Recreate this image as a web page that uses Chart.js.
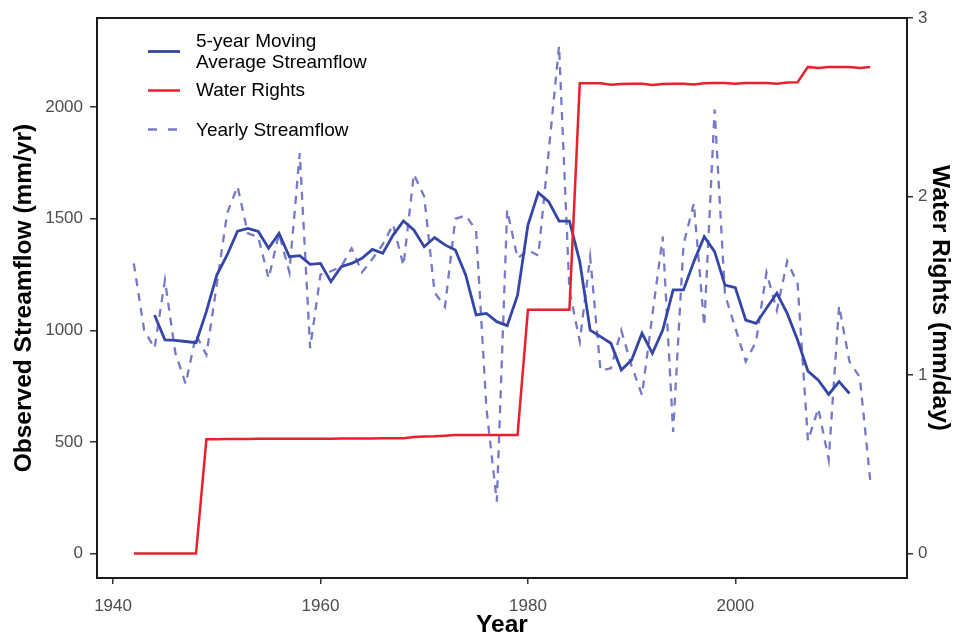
<!DOCTYPE html>
<html><head><meta charset="utf-8">
<script src="https://cdn.jsdelivr.net/npm/chart.js@4.4.0/dist/chart.umd.min.js"></script>
<style>html,body{margin:0;padding:0;background:#fff;}#wrap{width:960px;height:637px;}</style>
</head><body><div id="wrap"><canvas id="c" width="960" height="637"></canvas></div>
<script>
// ---- data ----
const years = [1942,1943,1944,1945,1946,1947,1948,1949,1950,1951,1952,1953,1954,1955,1956,1957,1958,1959,1960,1961,1962,1963,1964,1965,1966,1967,1968,1969,1970,1971,1972,1973,1974,1975,1976,1977,1978,1979,1980,1981,1982,1983,1984,1985,1986,1987,1988,1989,1990,1991,1992,1993,1994,1995,1996,1997,1998,1999,2000,2001,2002,2003,2004,2005,2006,2007,2008,2009,2010,2011,2012,2013];
const yearlyStreamflow = [1300,1000,920,1225,900,760,980,890,1205,1525,1645,1435,1418,1233,1435,1260,1795,920,1250,1265,1285,1368,1260,1320,1385,1475,1290,1700,1600,1170,1105,1500,1515,1450,650,232,1540,1323,1360,1335,1800,2275,1180,950,1330,820,830,1000,840,710,1070,1420,545,1385,1570,1020,1990,1160,1010,860,950,1260,1090,1310,1210,505,650,420,1110,860,790,330];
const maYears = [1944,1945,1946,1947,1948,1949,1950,1951,1952,1953,1954,1955,1956,1957,1958,1959,1960,1961,1962,1963,1964,1965,1966,1967,1968,1969,1970,1971,1972,1973,1974,1975,1976,1977,1978,1979,1980,1981,1982,1983,1984,1985,1986,1987,1988,1989,1990,1991,1992,1993,1994,1995,1996,1997,1998,1999,2000,2001,2002,2003,2004,2005,2006,2007,2008,2009,2010,2011];
const movingAverage = [1069,957,955,950,945,1085,1248,1338,1445,1457,1443,1368,1435,1330,1335,1296,1300,1218,1285,1300,1323,1363,1345,1427,1490,1450,1375,1416,1383,1360,1248,1069,1076,1039,1021,1158,1472,1617,1577,1490,1490,1308,1001,972,942,822,867,987,897,1001,1181,1181,1308,1420,1353,1203,1191,1046,1031,1099,1166,1076,957,817,777,713,770,717];
const waterRights = [0,0,0,0,0,0,0,0.640,0.640,0.641,0.641,0.641,0.642,0.642,0.642,0.642,0.642,0.643,0.643,0.643,0.644,0.644,0.644,0.644,0.645,0.645,0.645,0.652,0.655,0.656,0.660,0.663,0.664,0.664,0.664,0.664,0.664,0.664,1.366,1.366,1.366,1.366,1.366,2.634,2.634,2.634,2.626,2.630,2.632,2.632,2.625,2.630,2.632,2.632,2.628,2.634,2.636,2.636,2.632,2.636,2.636,2.636,2.632,2.638,2.640,2.726,2.720,2.726,2.726,2.726,2.720,2.726];
const xTicks = [1940,1960,1980,2000];
const leftTicks = [0,500,1000,1500,2000];
const rightTicks = [0,1,2,3];
const seriesLabels = ['5-year Moving Average Streamflow','Water Rights','Yearly Streamflow'];

// ---- style ----
const FONT = '"Liberation Sans", Arial, Helvetica, sans-serif';
const C_MA = '#3546a6', C_WR = '#e8212b', C_YR = '#7579c6';

const pts = (xs, ys) => xs.map((x, i) => ({x: x, y: ys[i]}));

const legendPlugin = {
  id: 'customLegend',
  afterDraw(chart) {
    const ctx = chart.ctx;
    const a = chart.chartArea;
    ctx.save();
    ctx.strokeStyle = '#1a1a1a';
    ctx.lineWidth = 2;
    ctx.strokeRect(a.left, a.top, a.right - a.left, a.bottom - a.top);
    const entries = [
      {lines: ['5-year Moving', 'Average Streamflow'], ty: [42, 63], sy: 51.5, color: C_MA, w: 2.8, dash: []},
      {lines: [seriesLabels[1]], ty: [91], sy: 90.5, color: C_WR, w: 2.5, dash: []},
      {lines: [seriesLabels[2]], ty: [130.5], sy: 129.5, color: C_YR, w: 2.3, dash: [9, 11]}
    ];
    ctx.font = '19px ' + FONT;
    ctx.textBaseline = 'middle';
    ctx.textAlign = 'left';
    entries.forEach(e => {
      ctx.beginPath();
      ctx.setLineDash(e.dash);
      ctx.strokeStyle = e.color;
      ctx.lineWidth = e.w;
      ctx.moveTo(148, e.sy);
      ctx.lineTo(180, e.sy);
      ctx.stroke();
      ctx.setLineDash([]);
      ctx.fillStyle = '#000';
      e.lines.forEach((t, i) => ctx.fillText(t, 196, e.ty[i]));
    });
    ctx.restore();
  }
};

const tickFont = {family: FONT, size: 17};
const titleFont = {family: FONT, size: 24.5, weight: 'bold', lineHeight: 1.0};

new Chart(document.getElementById('c'), {
  type: 'line',
  data: {
    datasets: [
      {label: seriesLabels[1], data: pts(years, waterRights), yAxisID: 'y2', borderColor: C_WR, borderWidth: 2.5, pointRadius: 0, tension: 0, fill: false},
      {label: seriesLabels[0], data: pts(maYears, movingAverage), yAxisID: 'y', borderColor: C_MA, borderWidth: 2.8, pointRadius: 0, tension: 0, fill: false},
      {label: seriesLabels[2], data: pts(years, yearlyStreamflow), yAxisID: 'y', borderColor: C_YR, borderWidth: 2.3, borderDash: [8, 7], pointRadius: 0, tension: 0, fill: false}
    ]
  },
  options: {
    responsive: false,
    animation: false,
    devicePixelRatio: 1,
    layout: {padding: {top: 18, left: 0, right: 0, bottom: 0}},
    plugins: {legend: {display: false}, tooltip: {enabled: false}},
    scales: {
      x: {
        type: 'linear', position: 'bottom', min: 1938.45, max: 2016.55,
        afterBuildTicks: s => { s.ticks = xTicks.map(v => ({value: v})); },
        afterFit: s => { s.height = 59; },
        ticks: {font: tickFont, color: '#4d4d4d', padding: 12, maxRotation: 0, callback: v => String(v)},
        grid: {drawOnChartArea: false, tickLength: 6, color: '#333', lineWidth: 1.5},
        border: {display: false},
        title: {display: true, text: 'Year', font: titleFont, color: '#000', padding: {top: 0, bottom: 0}}
      },
      y: {
        type: 'linear', position: 'left', min: -110, max: 2400,
        afterBuildTicks: s => { s.ticks = leftTicks.map(v => ({value: v})); },
        afterFit: s => { s.width = 97; },
        ticks: {font: tickFont, color: '#4d4d4d', padding: 7, callback: v => String(v)},
        grid: {drawOnChartArea: false, tickLength: 7, color: '#333', lineWidth: 1.5},
        border: {display: false},
        title: {display: true, text: 'Observed Streamflow (mm/yr)', font: titleFont, color: '#000', padding: {top: 12, bottom: 0}}
      },
      y2: {
        type: 'linear', position: 'right', min: -0.1375, max: 3.0,
        afterBuildTicks: s => { s.ticks = rightTicks.map(v => ({value: v})); },
        afterFit: s => { s.width = 53; },
        ticks: {font: tickFont, color: '#4d4d4d', padding: 5, callback: v => String(v)},
        grid: {drawOnChartArea: false, tickLength: 6, color: '#333', lineWidth: 1.5},
        border: {display: false},
        title: {display: true, text: 'Water Rights (mm/day)', font: titleFont, color: '#000', padding: {top: 8, bottom: 0}}
      }
    }
  },
  plugins: [legendPlugin]
});
</script>
</body></html>
